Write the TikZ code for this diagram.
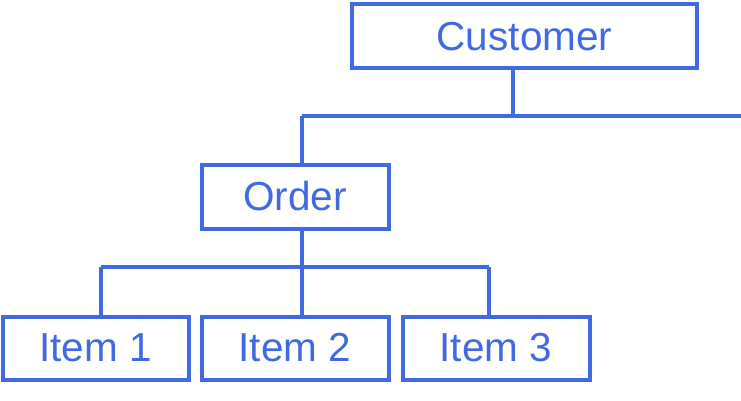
\documentclass[tikz,border=0pt]{standalone}
\usepackage{fontspec}
\setmainfont{Liberation Sans}
\definecolor{rb}{HTML}{4169E1}
\newcommand{\lowtxt}[1]{\raisebox{-4pt}{#1}}
\begin{document}
\begin{tikzpicture}[x=1pt,y=-1pt,
  box/.style={draw=rb,line width=4pt,rectangle,inner sep=0pt,text=rb,
    font=\fontsize{40.5}{48}\selectfont},
  link/.style={draw=rb,line width=3.8pt}]
\useasboundingbox (0,0) rectangle (741,401);
\node[box,minimum width=345.5pt,minimum height=64pt] (cust) at (524.5,36.5) {\lowtxt{Customer}};
\node[box,minimum width=187pt,minimum height=64pt] (order) at (295,196.5) {\lowtxt{Order}};
\node[box,minimum width=186pt,minimum height=63pt] (i1) at (95.5,348) {\lowtxt{Item 1}};
\node[box,minimum width=187pt,minimum height=63pt] (i2) at (295,348) {\lowtxt{Item 2}};
\node[box,minimum width=187pt,minimum height=63pt] (i3) at (496,348) {\lowtxt{Item 3}};
\coordinate (hubA) at (513,116);
\coordinate (hubL) at (302,116);
\coordinate (hubR) at (741,116);
\coordinate (hubB) at (302,266.7);
\coordinate (hubBL) at (101,266.7);
\coordinate (hubBR) at (489,266.7);
\draw[link] (cust.south -| hubA) -- (hubA);
\draw[link] (hubL) -- (hubR);
\draw[link] (hubL) -- (order.north -| hubL);
\draw[link] (order.south -| hubB) -- (hubB);
\draw[link] (hubBL) -- (hubBR);
\draw[link] (hubBL) -- (i1.north -| hubBL);
\draw[link] (hubB) -- (i2.north -| hubB);
\draw[link] (hubBR) -- (i3.north -| hubBR);
\end{tikzpicture}
\end{document}
